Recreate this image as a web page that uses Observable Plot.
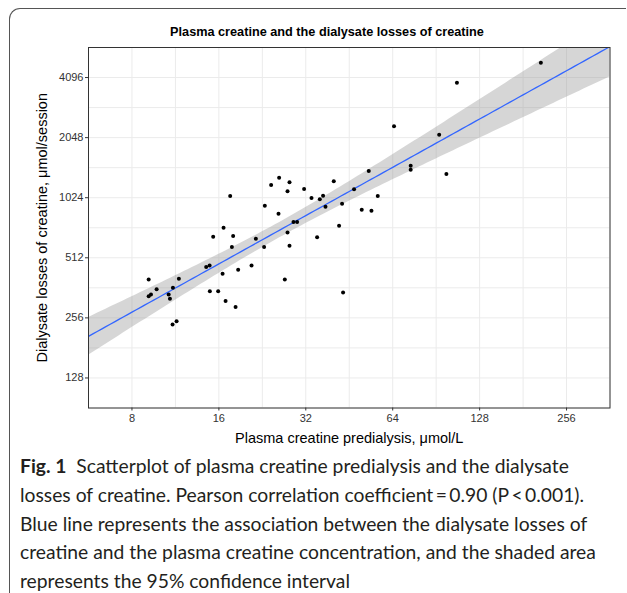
<!DOCTYPE html>
<html><head><meta charset="utf-8">
<script src="https://cdn.jsdelivr.net/npm/d3@7"></script>
<script src="https://cdn.jsdelivr.net/npm/@observablehq/plot@0.6"></script>
<style>
html,body{margin:0;padding:0;background:#fff;}
#wrap{position:relative;width:627px;height:593px;overflow:hidden;font-family:"Liberation Sans",Arial,sans-serif;}
#frame{position:absolute;left:9px;top:8px;width:616px;height:600px;border-left:1.5px solid #555;border-top:1.5px solid #555;border-top-left-radius:11px;}
#title{position:absolute;left:0;width:654px;top:24px;text-align:center;font-weight:bold;font-size:12.7px;line-height:16px;color:#000;}
#chart{position:absolute;left:0;top:0;}
#caption{position:absolute;left:20px;top:452px;font-family:Lato,sans-serif;font-size:19.3px;line-height:28.8px;color:#231f20;white-space:nowrap;}
#caption b{font-weight:bold;}
</style></head>
<body><div id="wrap"><div id="frame"></div><div id="chart"></div>
<div id="title">Plasma creatine and the dialysate losses of creatine</div>
<div id="caption"><b>Fig. 1</b>&nbsp; Scatterplot of plasma creatine predialysis and the dialysate<br>losses of creatine. Pearson correlation coefficient&#8201;=&#8201;0.90 (P&#8201;&lt;&#8201;0.001).<br>Blue line represents the association between the dialysate losses of<br>creatine and the plasma creatine concentration, and the shaded area<br>represents the 95% confidence interval</div>
</div>
<script>
// Plasma creatine predialysis (µmol/L)
const plasmaCreatine = [9.14, 9.14, 9.31, 9.74, 10.72, 10.83, 11.09, 11.63, 11.06, 11.42,
  14.46, 14.86, 14.89, 15.91, 15.29, 16.61, 17.51, 16.48, 16.88, 18.28,
  17.75, 17.93, 18.66, 20.76, 21.49, 22.95, 23.08, 24.27, 25.87, 25.74,
  28.1, 27.66, 27.66, 28.1, 27.07, 29.01, 29.86, 31.57, 33.49, 35.02,
  35.78, 36.73, 37.44, 40.0, 41.73, 42.74, 43.08, 47.02, 49.99, 52.87,
  54.02, 56.8, 64.67, 73.87, 73.87, 92.7, 98.2, 106.8, 208.6];
// Dialysate losses of creatine (µmol/session)
const dialysateLosses = [399, 329, 335, 356, 335, 319, 362, 402, 237, 246,
  461, 469, 348, 348, 653, 724, 1044, 426, 311, 290,
  580, 658, 446, 469, 638, 580, 934, 1187, 1290, 851,
  1224, 1103, 686, 588, 399, 773, 773, 1132, 1020, 648,
  1005, 1048, 923, 1237, 741, 955, 343, 1128, 891, 1393,
  881, 1044, 2336, 1481, 1414, 2120, 1346, 3853, 4854];
const xTicks = [8, 16, 32, 64, 128, 256];
const yTicks = [128, 256, 512, 1024, 2048, 4096];
const titleX = "Plasma creatine predialysis, μmol/L";
const titleY = "Dialysate losses of creatine, μmol/session";

const points = plasmaCreatine.map((x, i) => ({x, y: dialysateLosses[i]}));

// linear fit in log2–log2 space with 95% confidence band
const lx = plasmaCreatine.map(Math.log2), ly = dialysateLosses.map(Math.log2);
const n = lx.length;
const mx = d3.mean(lx), my = d3.mean(ly);
const sxx = d3.sum(lx, v => (v - mx) ** 2);
const sxy = d3.sum(lx.map((v, i) => (v - mx) * (ly[i] - my)));
const b = sxy / sxx, a = my - b * mx;
const s = Math.sqrt(d3.sum(lx.map((v, i) => (ly[i] - a - b * v) ** 2)) / (n - 2));
const tq = 2.002;
const xDom = [2 ** 2.5, 2 ** 8.5], yDom = [2 ** 6.5, 2 ** 12.5];
const fit = d3.range(0, 121).map(k => {
  const u = 2.5 + 6 * k / 120, f = a + b * u;
  const h = tq * s * Math.sqrt(1 / n + (u - mx) ** 2 / sxx);
  return {x: 2 ** u, fit: 2 ** f, lo: 2 ** (f - h), hi: 2 ** (f + h)};
});

const xGrid = xTicks.concat(xTicks.map(v => v * Math.SQRT2), [xTicks[0] / Math.SQRT2]);
const yGrid = yTicks.concat(yTicks.map(v => v * Math.SQRT2), [yTicks[0] / Math.SQRT2]);

const chart = Plot.plot({
  width: 627, height: 450,
  marginTop: 47, marginLeft: 88, marginRight: 17.5, marginBottom: 42.5,
  style: {fontFamily: "'Liberation Sans', Arial, sans-serif", background: "transparent", overflow: "visible"},
  x: {type: "log", base: 2, domain: xDom},
  y: {type: "log", base: 2, domain: yDom},
  marks: [
    Plot.gridX(xGrid, {stroke: "#ebebeb", strokeOpacity: 1, strokeWidth: 1}),
    Plot.gridY(yGrid, {stroke: "#ebebeb", strokeOpacity: 1, strokeWidth: 1}),
    Plot.areaY(fit, {x: "x", y1: "lo", y2: "hi", fill: "#999999", fillOpacity: 0.4, clip: true}),
    Plot.line(fit, {x: "x", y: "fit", stroke: "#3366FF", strokeWidth: 1.3, clip: true}),
    Plot.dot(points, {x: "x", y: "y", r: 2, fill: "#000", stroke: null}),
    Plot.frame({stroke: "#333", strokeWidth: 1}),
    Plot.axisX(xTicks, {tickSize: 3, tickPadding: 3, fontSize: 11, color: "#333", tickFormat: d => String(d), label: null}),
    Plot.axisY(yTicks, {tickSize: 3, tickPadding: 2, fontSize: 11, color: "#333", tickFormat: d => String(d), label: null}),
    Plot.text([titleX], {text: d => d, frameAnchor: "bottom", dy: 35, fontSize: 14.5, fill: "#000"}),
    Plot.text([titleY], {text: d => d, frameAnchor: "left", textAnchor: "middle", lineAnchor: "middle", dx: -46, rotate: -90, fontSize: 14.5, fill: "#000"})
  ]
});
document.getElementById("chart").appendChild(chart);
</script>
</body></html>
